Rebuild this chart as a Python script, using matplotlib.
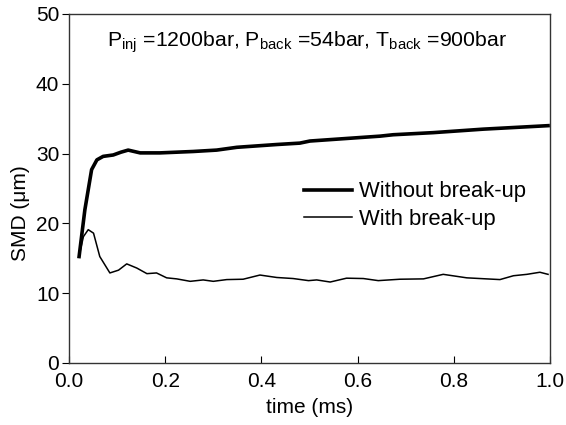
import matplotlib
matplotlib.use("Agg")
import matplotlib.pyplot as plt

plt.rcParams['font.family'] = ['Liberation Sans', 'DejaVu Sans']
plt.rcParams['mathtext.default'] = 'regular'

# Without break-up (thick line)
t_without = [0.021, 0.033, 0.047, 0.058, 0.071, 0.092, 0.108, 0.123, 0.148, 0.189,
             0.258, 0.307, 0.349, 0.432, 0.480, 0.501, 0.647, 0.674, 0.757, 0.861, 0.996]
smd_without = [15.25, 21.95, 27.7, 29.1, 29.6, 29.8, 30.2, 30.5, 30.1, 30.1,
               30.3, 30.5, 30.9, 31.3, 31.5, 31.8, 32.5, 32.7, 33.0, 33.5, 34.0]

# With break-up (thin line)
t_with = [0.021, 0.030, 0.040, 0.051, 0.064, 0.085, 0.103, 0.120, 0.141, 0.162,
          0.182, 0.203, 0.224, 0.252, 0.279, 0.300, 0.328, 0.362, 0.397, 0.432,
          0.466, 0.498, 0.515, 0.543, 0.577, 0.612, 0.643, 0.688, 0.737, 0.778,
          0.827, 0.868, 0.896, 0.924, 0.952, 0.979, 0.996]
smd_with = [15.35, 18.1, 19.1, 18.6, 15.25, 12.9, 13.3, 14.2, 13.6, 12.8,
            12.9, 12.2, 12.05, 11.7, 11.9, 11.7, 11.95, 12.0, 12.6, 12.25,
            12.1, 11.8, 11.9, 11.6, 12.15, 12.1, 11.8, 12.0, 12.05, 12.7,
            12.2, 12.05, 11.95, 12.5, 12.7, 13.0, 12.7]

fig = plt.figure(figsize=(5.66, 4.25), dpi=100)
ax = fig.add_axes([0.1219, 0.1459, 0.8498, 0.8212])

ax.plot(t_without, smd_without, color='black', lw=2.6, label='Without break-up')
ax.plot(t_with, smd_with, color='black', lw=1.1, label='With break-up')

ax.set_xlim(0, 1.0)
ax.set_ylim(0, 50)
ax.set_xticks([0.0, 0.2, 0.4, 0.6, 0.8, 1.0])
ax.set_yticks([0, 10, 20, 30, 40, 50])
ax.set_xticklabels(['0.0', '0.2', '0.4', '0.6', '0.8', '1.0'])
ax.tick_params(axis='x', direction='in', length=5, labelsize=15, pad=6.5)
ax.tick_params(axis='y', direction='out', length=5, labelsize=15, pad=2)
for s in ax.spines.values():
    s.set_linewidth(1.0)
    s.set_color('#333333')

ax.set_xlabel('time (ms)', fontsize=15, labelpad=5)
ax.set_ylabel('SMD (\u03bcm)', fontsize=15)
ax.yaxis.set_label_coords(-0.081, 0.43)

ax.text(0.494, 0.918, r'P$_{inj}$ =1200bar, P$_{back}$ =54bar, T$_{back}$ =900bar',
        transform=ax.transAxes, ha='center', va='center', fontsize=15.3)

ax.legend(loc='center left', bbox_to_anchor=(0.47, 0.451), frameon=False,
          fontsize=15.8, handlelength=2.2, handletextpad=0.3, labelspacing=0.3,
          borderaxespad=0)

fig.savefig('out.png', dpi=100)
